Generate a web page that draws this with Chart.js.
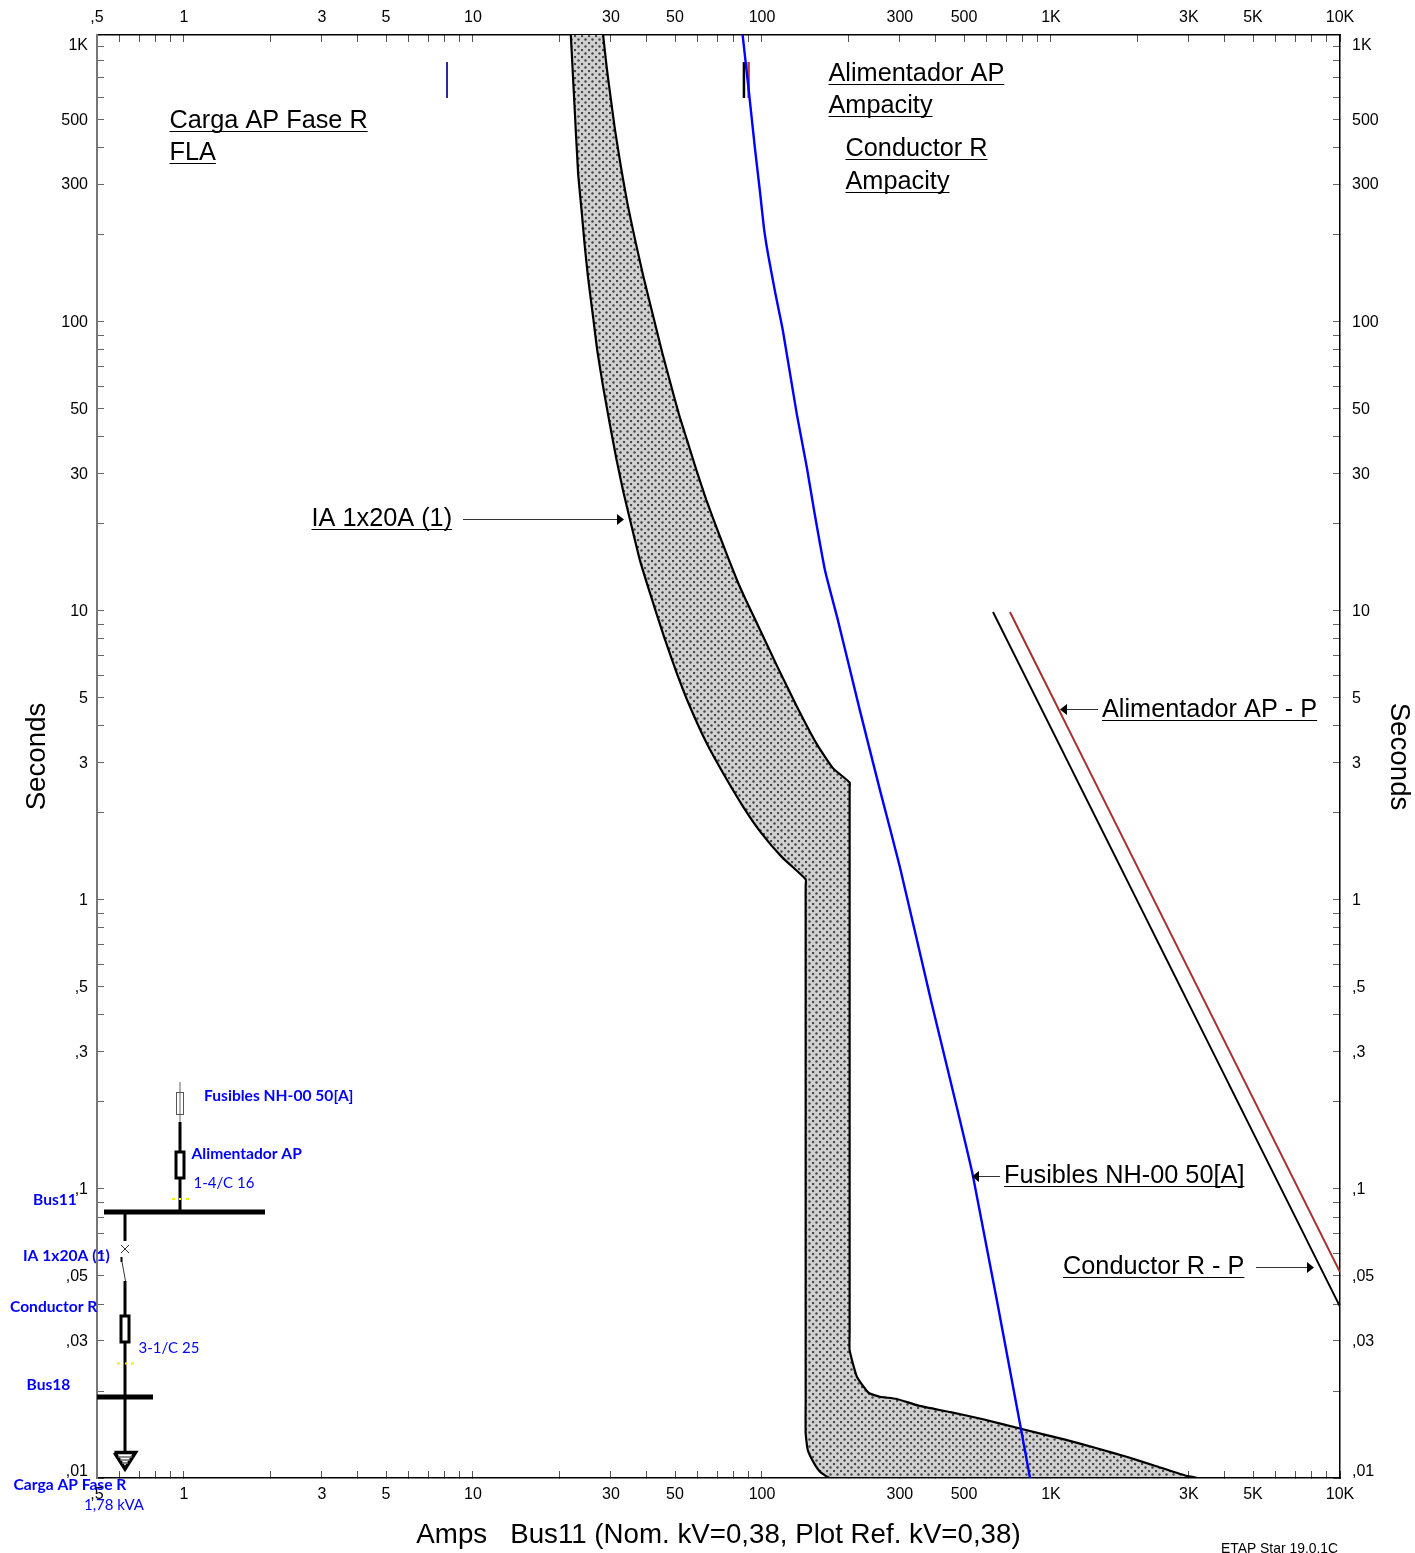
<!DOCTYPE html>
<html>
<head>
<meta charset="utf-8">
<title>Carga AP Fase R</title>
<script src="https://cdn.jsdelivr.net/npm/chart.js@4/dist/chart.umd.js"></script>
<style>
    html, body { margin: 0; padding: 0; background: #fff; }
    canvas { display: block; }
</style>
</head>
<body>
<canvas id="miGrafico" width="1415" height="1553"></canvas>
<script>
// Ejes
const ampsMin = 0.5;
const ampsMax = 10000;
const secondsMin = 0.01;
const secondsMax = 984;
const ampTicks = [0.5, 0.6, 0.7, 0.8, 0.9, 1, 2, 3, 4, 5, 6, 7, 8, 9, 10, 20, 30, 40, 50, 60, 70, 80, 90, 100, 200, 300, 400, 500, 600, 700, 800, 900, 1000, 2000, 3000, 4000, 5000, 6000, 7000, 8000, 9000, 10000];
const ampLabels = [',5', '', '', '', '', '1', '', '3', '', '5', '', '', '', '', '10', '', '30', '', '50', '', '', '', '', '100', '', '300', '', '500', '', '', '', '', '1K', '', '3K', '', '5K', '', '', '', '', '10K'];
const secondTicks = [0.01, 0.01058, 0.02, 0.03, 0.04, 0.05, 0.06, 0.07, 0.08, 0.09, 0.1, 0.2, 0.3, 0.4, 0.5, 0.6, 0.7, 0.8, 0.9, 1, 2, 3, 4, 5, 6, 7, 8, 9, 10, 20, 30, 40, 50, 60, 70, 80, 90, 100, 200, 300, 400, 500, 600, 700, 800, 900, 909];
const secondLabels = ['', ',01', '', ',03', '', ',05', '', '', '', '', ',1', '', ',3', '', ',5', '', '', '', '', '1', '', '3', '', '5', '', '', '', '', '10', '', '30', '', '50', '', '', '', '', '100', '', '300', '', '500', '', '', '', '', '1K'];
// Posiciones que solo llevan texto, sin marca
const labelOnlyTicks = [0.01058, 909];

// IA 1x20A (1): contorno cerrado de la banda de disparo
const breakerAmps = [21.8, 22.4, 23.1, 23.8, 24.3, 25.0, 26.1, 26.9, 28.2, 29.7, 31.4, 33.2, 35.4, 37.8, 41.0, 45.8, 50.7, 56.3, 64.3, 73.3, 86.1, 99.2, 117, 141.6, 141.6, 141.6, 141.6, 141.6, 144, 151, 159, 172, 3190, 2910, 2300, 1850, 1430, 1110, 787, 577, 449, 348, 291, 256, 234, 213, 201, 201, 201, 201, 176, 154, 132, 113, 98.5, 88.0, 81.9, 71.5, 64.2, 59.3, 55.0, 51.6, 48.2, 45.2, 42.3, 38.9, 36.2, 34.2, 32.5, 31.0, 29.7, 29.0, 28.2];
const breakerSeconds = [984, 586, 328, 238, 188, 143, 102, 80, 59.7, 44.7, 33.3, 25.6, 19.6, 15.0, 11.5, 8.15, 6.10, 4.67, 3.49, 2.75, 2.10, 1.71, 1.41, 1.18, 1.12, 0.3, 0.0186, 0.0143, 0.0125, 0.0113, 0.0105, 0.01, 0.01, 0.0102, 0.0110, 0.0118, 0.0127, 0.0136, 0.0148, 0.0160, 0.0169, 0.0178, 0.0188, 0.0191, 0.0197, 0.0224, 0.0277, 0.032, 2.45, 2.55, 2.86, 3.49, 4.67, 6.42, 8.6, 10.9, 12.8, 18.1, 24.2, 30.7, 39.1, 47.9, 61.5, 78.1, 102, 143, 197, 258, 344, 462, 635, 764, 984];

// Fusibles NH-00 50[A]
const fuseAmps = [85.7, 90.1, 94.5, 98.5, 101.6, 105, 111, 118, 132, 143, 152, 165, 183, 218, 256, 300, 384, 537, 787, 846];
const fuseSeconds = [984, 625, 400, 280, 211, 171, 127, 93.8, 47.9, 31.3, 21.8, 13.9, 9.31, 4.54, 2.40, 1.30, 0.451, 0.111, 0.0148, 0.01];

// Daño de conductores
const conductorAmps = [630, 10000];
const conductorSeconds = [9.92, 0.0392];
const feederAmps = [721, 10000];
const feederSeconds = [9.92, 0.0516];

// Marcas de FLA y ampacidad
const ampacitySeconds = [794, 596];
const flaAmps = [8.13, 8.13];
const conductorAmpacity = [86.6, 86.6];
const feederAmpacity = [89.9, 89.9];

const toPoints = (xs, ys) => xs.map((x, i) => ({ x: x, y: ys[i] }));

// Trama punteada del relleno
function crearTrama() {
    const tile = document.createElement('canvas');
    tile.width = 7;
    tile.height = 7;
    const c = tile.getContext('2d');
    c.fillStyle = '#d0d0d0';
    c.fillRect(0, 0, 7, 7);
    [[1, 1], [4.5, 4.5]].forEach(([x, y]) => {
        c.fillStyle = '#444';
        c.beginPath();
        c.arc(x, y, 1.2, 0, Math.PI * 2);
        c.fill();
    });
    return document.createElement('canvas').getContext('2d').createPattern(tile, 'repeat');
}

function linea(datos, color, ancho, extra) {
    return Object.assign({
        data: datos,
        showLine: true,
        borderColor: color,
        borderWidth: ancho,
        pointRadius: 0,
        tension: 0,
        fill: false
    }, extra || {});
}

// Etiquetas subrayadas
const bigLabels = [
    ['Carga AP Fase R', 169.5, 128],
    ['FLA', 169.5, 160],
    ['Alimentador AP', 828.5, 81],
    ['Ampacity', 828.5, 113],
    ['Conductor R', 845.5, 156],
    ['Ampacity', 845.5, 189],
    ['IA 1x20A (1)', 311.5, 526],
    ['Alimentador AP - P', 1102, 717],
    ['Fusibles NH-00 50[A]', 1004, 1183],
    ['Conductor R - P', 1063, 1274]
];
// [x inicial, x final, y]
const arrows = [
    [463, 624, 519],
    [1098, 1060, 709],
    [1000, 972, 1176],
    [1256, 1314, 1267]
];
const diagramLabels = [
    ['Fusibles NH-00 50[A]', 204, 1101, true],
    ['Alimentador AP', 191.5, 1159, true],
    ['1-4/C 16', 193.5, 1188, false],
    ['Bus11', 33, 1205, true],
    ['IA 1x20A (1)', 23, 1261, true],
    ['Conductor R', 10, 1312, true],
    ['3-1/C 25', 138.5, 1353, false],
    ['Bus18', 26.5, 1390, true],
    ['Carga AP Fase R', 13.5, 1490, true],
    ['1,78 kVA', 84, 1510, false]
];

function trazo(c, color, ancho, puntos) {
    c.strokeStyle = color;
    c.lineWidth = ancho;
    c.beginPath();
    puntos.forEach(([x, y], i) => (i === 0 ? c.moveTo(x, y) : c.lineTo(x, y)));
    c.stroke();
}

function dibujarDiagrama(c) {
    // Rama del alimentador
    trazo(c, '#666', 1, [[180, 1082], [180, 1122]]);
    c.strokeStyle = '#555';
    c.lineWidth = 1;
    c.strokeRect(176.5, 1092.5, 7, 22);
    trazo(c, '#000', 3, [[180, 1122], [180, 1212]]);
    c.fillStyle = '#fff';
    c.fillRect(176, 1152, 8, 26);
    c.strokeStyle = '#000';
    c.lineWidth = 3;
    c.strokeRect(176, 1152, 8, 26);
    // Barras
    trazo(c, '#000', 5, [[104, 1212], [265, 1212]]);
    trazo(c, '#000', 5, [[97, 1397], [153, 1397]]);
    // Rama de la carga
    trazo(c, '#000', 3, [[125, 1212], [125, 1241]]);
    trazo(c, '#333', 1, [[121, 1245], [129, 1253]]);
    trazo(c, '#333', 1, [[129, 1245], [121, 1253]]);
    trazo(c, '#000', 2, [[121.5, 1257], [121.5, 1262]]);
    trazo(c, '#333', 1, [[122, 1262], [125.5, 1281]]);
    trazo(c, '#000', 3, [[125, 1281], [125, 1451]]);
    c.fillStyle = '#fff';
    c.fillRect(121, 1316, 8, 26);
    c.strokeStyle = '#000';
    c.lineWidth = 3;
    c.strokeRect(121, 1316, 8, 26);
    // Tierra
    trazo(c, '#000', 3.5, [[114.5, 1452.5], [135.5, 1452.5], [125, 1469], [114.5, 1452.5]]);
    trazo(c, '#666', 1.5, [[118, 1457], [132, 1457]]);
    trazo(c, '#666', 1.5, [[120, 1460], [130, 1460]]);
    trazo(c, '#666', 1.5, [[122, 1463], [128, 1463]]);
    // Marcas amarillas
    trazo(c, '#f5f000', 2, [[172, 1199], [175, 1199]]);
    trazo(c, '#f5f000', 2, [[179, 1199], [181, 1199]]);
    trazo(c, '#f5f000', 2, [[186, 1199], [189, 1199]]);
    trazo(c, '#f5f000', 2, [[117, 1363.5], [120, 1363.5]]);
    trazo(c, '#f5f000', 2, [[125, 1363.5], [127, 1363.5]]);
    trazo(c, '#f5f000', 2, [[131, 1363.5], [134, 1363.5]]);
}

const anotaciones = {
    id: 'anotaciones',
    afterDraw(chart) {
        const c = chart.ctx;
        c.save();
        c.lineCap = 'butt';

        // Rótulos grandes
        c.font = '25.3px "Liberation Sans", Arial, sans-serif';
        c.fillStyle = '#000';
        c.textAlign = 'left';
        c.textBaseline = 'alphabetic';
        bigLabels.forEach(([texto, x, y]) => {
            c.fillText(texto, x, y);
            trazo(c, '#000', 1.2, [[x, y + 3.5], [x + c.measureText(texto).width, y + 3.5]]);
        });

        // Flechas
        arrows.forEach(([x1, x2, y]) => {
            const dir = x2 > x1 ? 1 : -1;
            trazo(c, '#333', 1, [[x1, y + 0.5], [x2 - dir * 6, y + 0.5]]);
            c.fillStyle = '#000';
            c.beginPath();
            c.moveTo(x2, y + 0.5);
            c.lineTo(x2 - dir * 7, y - 5);
            c.lineTo(x2 - dir * 7, y + 6);
            c.closePath();
            c.fill();
        });

        dibujarDiagrama(c);

        // Rótulos del diagrama unifilar
        c.fillStyle = '#0000ff';
        diagramLabels.forEach(([texto, x, y, negrita]) => {
            c.font = negrita ? 'bold 15.6px Lato, "Open Sans", sans-serif' : '15px Lato, "Open Sans", sans-serif';
            c.fillText(texto, x, y);
        });

        c.fillStyle = '#000';
        c.font = '13.9px "Liberation Sans", Arial, sans-serif';
        c.fillText('ETAP Star 19.0.1C', 1221, 1553);
        c.restore();
    }
};

const tickFont = { family: '"Liberation Sans", Arial, sans-serif', size: 16 };
const titleFont = { family: '"Liberation Sans", Arial, sans-serif', size: 27.7 };

function ejeAmps(posicion, tam, padding, titulo) {
    return {
        type: 'logarithmic',
        axis: 'x',
        position: posicion,
        min: ampsMin,
        max: ampsMax,
        afterBuildTicks: axis => { axis.ticks = ampTicks.map(v => ({ value: v })); },
        afterFit: axis => { axis.height = tam; },
        border: { color: '#000', width: 1.5 },
        grid: { drawOnChartArea: false, drawTicks: true, tickLength: -7, tickColor: '#555', tickWidth: 1 },
        ticks: {
            autoSkip: false,
            maxRotation: 0,
            minRotation: 0,
            padding: padding,
            color: '#000',
            font: tickFont,
            callback: (value, i) => ampLabels[i]
        },
        title: titulo
    };
}

function ejeSegundos(posicion, tam, padding, borde, margenTitulo) {
    return {
        type: 'logarithmic',
        axis: 'y',
        position: posicion,
        min: secondsMin,
        max: secondsMax,
        afterBuildTicks: axis => { axis.ticks = secondTicks.map(v => ({ value: v })); },
        afterFit: axis => { axis.width = tam; },
        border: { color: borde, width: posicion === 'left' ? 2 : 1.5 },
        grid: {
            drawOnChartArea: false,
            drawTicks: true,
            tickLength: -7,
            tickWidth: 1,
            tickColor: ctx => (ctx.tick && labelOnlyTicks.includes(ctx.tick.value) ? 'rgba(0,0,0,0)' : '#666')
        },
        ticks: {
            autoSkip: false,
            padding: padding,
            labelOffset: 1,
            color: '#000',
            font: tickFont,
            callback: (value, i) => secondLabels[i]
        },
        title: { display: true, text: 'Seconds', color: '#000', font: titleFont, padding: { top: margenTitulo, bottom: 0 } }
    };
}

const miGrafico = new Chart(document.getElementById('miGrafico').getContext('2d'), {
    type: 'scatter',
    data: {
        datasets: [
            linea(toPoints(fuseAmps, fuseSeconds), '#0000ff', 2.4, { tension: 0.15 }),
            linea(toPoints(conductorAmps, conductorSeconds), '#000000', 1.9),
            linea(toPoints(feederAmps, feederSeconds), '#a52a2a', 1.9),
            linea(toPoints(flaAmps, ampacitySeconds), '#2a2a9a', 2),
            linea(toPoints(conductorAmpacity, ampacitySeconds), '#000000', 2.5),
            linea(toPoints(feederAmpacity, ampacitySeconds), '#b84040', 2.5),
            linea(toPoints(breakerAmps, breakerSeconds), '#000000', 2.2, {
                fill: 'shape',
                backgroundColor: crearTrama(),
                tension: 0.15
            })
        ]
    },
    options: {
        responsive: false,
        animation: false,
        layout: { padding: 0 },
        plugins: {
            legend: { display: false },
            tooltip: { enabled: false },
            title: { display: false }
        },
        scales: {
            x: ejeAmps('bottom', 75, 14, {
                display: true,
                text: 'Amps   Bus11 (Nom. kV=0,38, Plot Ref. kV=0,38)',
                color: '#000',
                font: titleFont,
                padding: { top: 0, bottom: 1 }
            }),
            x2: ejeAmps('top', 35, 15, { display: false }),
            y: ejeSegundos('left', 97, 16, '#777', 21),
            y2: ejeSegundos('right', 75, 19, '#000', 0)
        }
    },
    plugins: [anotaciones]
});
</script>
</body>
</html>
